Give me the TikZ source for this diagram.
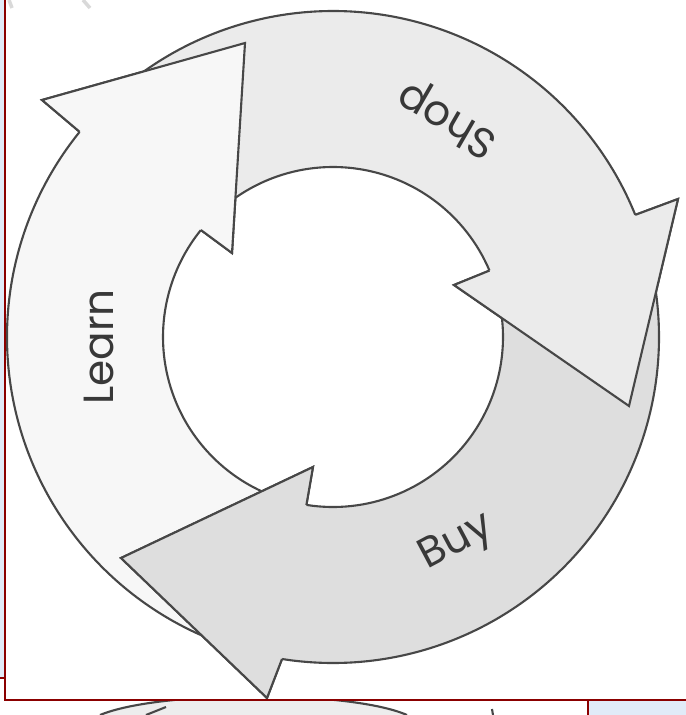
\documentclass[tikz,border=0pt]{standalone}
\usepackage{fontspec}
\setmainfont{Poppins}
\usepackage{xcolor}
\usepackage{tikz}
\usetikzlibrary{calc}

\definecolor{strokegray}{HTML}{474747}
\definecolor{framered}{HTML}{8B0000}
\definecolor{pane}{HTML}{E1EBF8}

\begin{document}
\begin{tikzpicture}[
  x=0.01cm, y=0.01cm,
  arrowpart/.style={draw=strokegray, line width=0.6pt, line join=miter},
  learn/.style={arrowpart, fill=black!3},
  shop/.style={arrowpart, fill=black!8},
  buy/.style={arrowpart, fill=black!13},
  cyclelbl/.style={text=black!78, font=\fontsize{12}{14}\selectfont, inner sep=0pt},
  frameline/.style={draw=framered, line width=0.7pt}
]
\useasboundingbox (0,0) rectangle (686,-715);
\coordinate (c) at (333,-337);

% Arrows (full outlines)
\draw[learn] ($(c)+(250:326)$) arc[start angle=250, end angle=141, radius=326] -- (42,-100) -- (245,-43) -- (232,-253) -- ($(c)+(141:170)$) arc[start angle=141, end angle=250, radius=170] -- cycle;
\draw[shop] ($(c)+(130:326)$) arc[start angle=130, end angle=22, radius=326] -- (678,-199) -- (629,-406) -- (454,-285) -- ($(c)+(23:170)$) arc[start angle=23, end angle=130, radius=170] -- cycle;
\draw[buy] ($(c)+(12:326)$) arc[start angle=12, end angle=-99, radius=326] -- (267,-698) -- (121,-558) -- (313,-467) -- ($(c)+(-99:170)$) arc[start angle=-99, end angle=12, radius=170] -- cycle;

% Heads on top
\draw[learn] ($(c)+(141:326)$) -- (42,-100) -- (245,-43) -- (232,-253) -- ($(c)+(141:170)$);
\draw[shop] ($(c)+(22:326)$) -- (678,-199) -- (629,-406) -- (454,-285) -- ($(c)+(23:170)$);
\draw[buy] ($(c)+(-99:326)$) -- (267,-698) -- (121,-558) -- (313,-467) -- ($(c)+(-99:170)$);

% Labels
\node[cyclelbl, rotate=90] (learn-lbl) at (99,-347) {Learn};
\node[cyclelbl, rotate=150] (shop-lbl) at (448,-118) {Shop};
\node[cyclelbl, rotate=28] (buy-lbl) at (457,-543) {Buy};

% Page edges
\draw[black!15, line width=1pt] (9,0) -- (12,-8);
\draw[black!15, line width=1pt] (83,0) -- (90,-8);
\fill[pane] (0,0) rectangle (4.5,-678);
\draw[frameline] (0,-678) -- (5,-678);
\begin{scope}
  \clip (5,-700) rectangle (588,-715);
  \fill[black!7] (100,-715) .. controls (160,-690) and (350,-690) .. (407,-715) -- cycle;
  \draw[arrowpart] (100,-715) .. controls (160,-690) and (350,-690) .. (407,-715);
  \draw[arrowpart] (146,-715) -- (166,-707);
  \draw[arrowpart] (492,-709) -- (493,-715);
\end{scope}
\fill[pane] (588,-700) rectangle (686,-715);
\draw[frameline] (588,-700) -- (588,-715);
\draw[frameline] (5,0) -- (5,-700) -- (686,-700);

\end{tikzpicture}
\end{document}
